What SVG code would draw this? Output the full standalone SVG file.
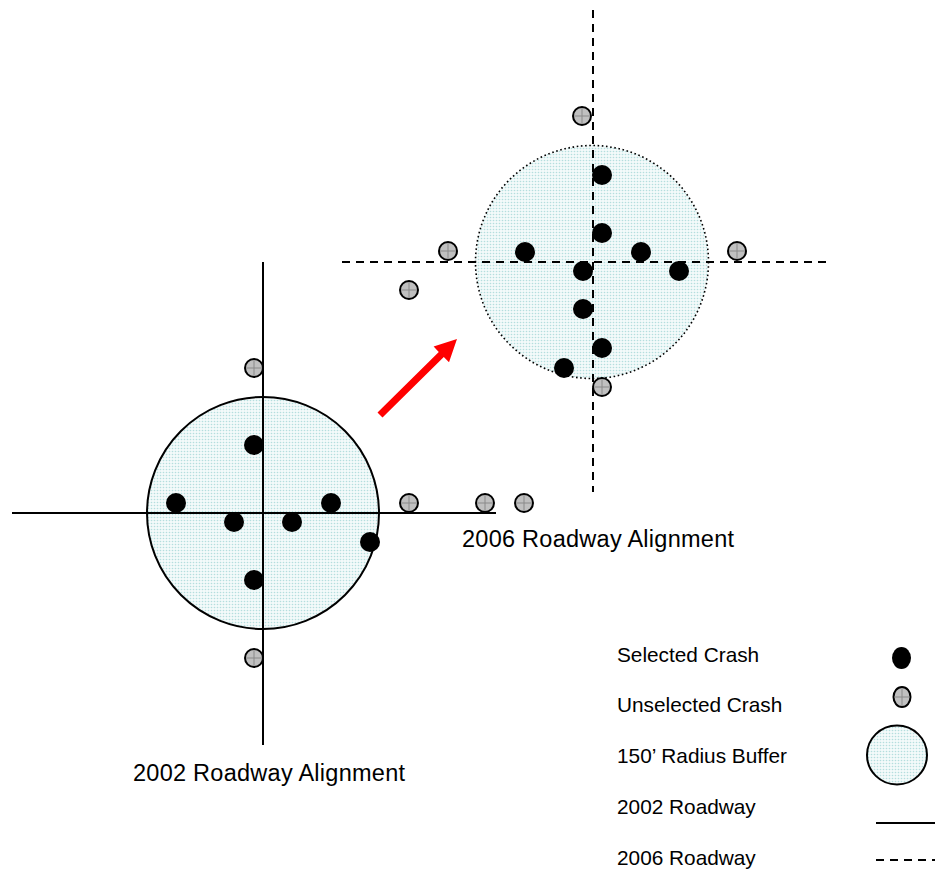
<svg xmlns="http://www.w3.org/2000/svg" width="935" height="872" viewBox="0 0 935 872">
<style>
.sel{fill:#000}
.uns{fill:#c0c0c0;stroke:#000;stroke-width:2}
.x{stroke:#8a8a8a;stroke-width:1}
.road{stroke:#000;stroke-width:2;fill:none}
.dash{stroke:#000;stroke-width:2;fill:none;stroke-dasharray:8 6}
.buf{fill:url(#dots);stroke:#000;stroke-width:2}
.bufd{fill:url(#dots);stroke:#000;stroke-width:1.6;stroke-dasharray:1.6 2.6}
text{font-family:"Liberation Sans",Arial,sans-serif;fill:#000}
.lbl{font-size:23.5px}
.leg{font-size:20.8px}
</style>
<defs>
<pattern id="dots" width="3" height="3" patternUnits="userSpaceOnUse">
<rect width="3" height="3" fill="#f3fafa"/>
<circle cx="1.5" cy="1.5" r="0.8" fill="#b4dede"/>
</pattern>
<g id="u">
<circle r="9" class="uns"/>
<path d="M-8 0H8M0-8V8" class="x"/>
</g>
</defs>
<rect width="935" height="872" fill="#fff"/>

<g id="buffer2002"><circle cx="263" cy="513" r="116" class="buf"/></g>
<g id="buffer2006"><circle cx="592" cy="262" r="116.5" class="bufd"/></g>

<g id="connectors">
<path d="M263 262V745M12 513H496" class="road"/>
<path d="M593 10V492M342 262H826" class="dash"/>
<polygon points="377.5,412.5 438.8,351.9 433.6,346.6 457,339 449,362.2 443.8,356.9 382.5,417.5" fill="#ff0000"/>
</g>

<g id="selected2002">
<circle cx="254" cy="445" r="10" class="sel"/>
<circle cx="176" cy="503" r="10" class="sel"/>
<circle cx="234" cy="522" r="10" class="sel"/>
<circle cx="292" cy="522" r="10" class="sel"/>
<circle cx="331" cy="503" r="10" class="sel"/>
<circle cx="370" cy="542" r="10" class="sel"/>
<circle cx="254" cy="580" r="10" class="sel"/>
</g>
<g id="unselected2002">
<use href="#u" x="254" y="368"/>
<use href="#u" x="409" y="503"/>
<use href="#u" x="485" y="503"/>
<use href="#u" x="524" y="503"/>
<use href="#u" x="254" y="658"/>
</g>

<g id="selected2006">
<circle cx="602" cy="175" r="10" class="sel"/>
<circle cx="602" cy="233" r="10" class="sel"/>
<circle cx="525" cy="252" r="10" class="sel"/>
<circle cx="641" cy="252" r="10" class="sel"/>
<circle cx="583" cy="271" r="10" class="sel"/>
<circle cx="679" cy="271" r="10" class="sel"/>
<circle cx="583" cy="309" r="10" class="sel"/>
<circle cx="602" cy="348" r="10" class="sel"/>
<circle cx="564" cy="368" r="10" class="sel"/>
</g>
<g id="unselected2006">
<use href="#u" x="582" y="116"/>
<use href="#u" x="448" y="251"/>
<use href="#u" x="737" y="251"/>
<use href="#u" x="409" y="290"/>
<use href="#u" x="602" y="387"/>
</g>

<g id="label2006"><text x="462" y="547" class="lbl" textLength="272" lengthAdjust="spacing">2006 Roadway Alignment</text></g>
<g id="label2002"><text x="133" y="781" class="lbl" textLength="272" lengthAdjust="spacing">2002 Roadway Alignment</text></g>

<g id="legend">
<text x="617" y="662" class="leg">Selected Crash</text>
<text x="617" y="712" class="leg">Unselected Crash</text>
<text x="617" y="763" class="leg">150’ Radius Buffer</text>
<text x="617" y="814" class="leg">2002 Roadway</text>
<text x="617" y="865" class="leg">2006 Roadway</text>
<ellipse cx="901.5" cy="658" rx="9.5" ry="11" class="sel"/>
<ellipse cx="902" cy="697" rx="8.5" ry="10" class="uns"/>
<path d="M894.5 697H909.5M902 688V706" class="x"/>
<ellipse cx="897" cy="755" rx="30" ry="29.5" class="buf"/>
<path d="M876 823H935" class="road"/>
<path d="M876 860H935" class="dash"/>
</g>
</svg>
